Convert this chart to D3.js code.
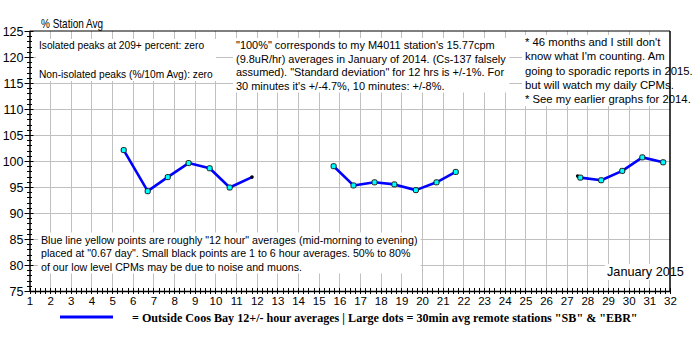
<!DOCTYPE html>
<html><head><meta charset="utf-8">
<script src="https://cdn.jsdelivr.net/npm/d3@7"></script>
<style>body{margin:0;background:#fff}svg{display:block}</style>
</head><body><svg id="c" width="700" height="350"></svg>
<script>
// ---- data ----
const avgDays = [5.56, 6.72, 7.69, 8.70, 9.72, 10.69,
                 15.72, 16.68, 17.70, 18.66, 19.70, 20.70, 21.63,
                 27.66, 28.67, 29.69, 30.66, 31.67];
const avgVals = [102.1, 94.2, 96.9, 99.6, 98.6, 94.9,
                 99.0, 95.3, 95.9, 95.5, 94.4, 95.9, 97.9,
                 96.8, 96.3, 98.1, 100.7, 99.75];
const shortDays = [11.77, 27.53];
const shortVals = [96.9, 97.1];
const xTicks = d3.range(1, 33);
const yTicks = [75, 80, 85, 90, 95, 100, 105, 110, 115, 120, 125];
const yTitle = "% Station Avg";
const monthLabel = "January 2015";
const notePeaks = ["Isolated peaks at 209+ percent: zero", "Non-isolated peaks (%/10m Avg): zero"];
const noteStation = ["\"100%\" corresponds to my M4011 station's 15.77cpm",
  "(9.8uR/hr) averages in January of 2014. (Cs-137 falsely",
  "assumed). \"Standard deviation\" for 12 hrs is +/-1%. For",
  "30 minutes it's +/-4.7%, 10 minutes: +/-8%."];
const noteMonths = ["* 46 months and I still don't", "know what I'm counting. Am",
  "going to sporadic reports in 2015.", "but will watch my daily CPMs.",
  "* See my earlier graphs for 2014."];
const noteLegend = ["Blue line yellow points are roughly \"12 hour\" averages (mid-morning to evening)",
  "placed at \"0.67 day\". Small black points are 1 to 6 hour averages. 50% to 80%",
  "of our low level CPMs may be due to noise and muons."];
const legendText = "= Outside Coos Bay 12+/- hour averages | Large dots = 30min avg remote stations \"SB\" & \"EBR\"";

// ---- chart ----
const svg = d3.select("#c");
svg.append("rect").attr("width", 700).attr("height", 350).attr("fill", "#fff");
const SANS = "'Liberation Sans', Arial, sans-serif";
const x = d3.scaleLinear().domain([1, 32]).range([29.5, 670]);
const y = d3.scaleLinear().domain([75, 125]).range([291, 31]);

// grid
const grid = svg.append("g").attr("stroke", "#c0c0c0").attr("stroke-width", 1);
grid.selectAll("line.v").data(xTicks.slice(1, -1)).join("line")
  .attr("x1", d => Math.round(x(d)) + 0.5).attr("x2", d => Math.round(x(d)) + 0.5)
  .attr("y1", y(125)).attr("y2", y(75));
grid.selectAll("line.h").data(yTicks.slice(1, -1)).join("line")
  .attr("y1", d => Math.round(y(d)) + 0.5).attr("y2", d => Math.round(y(d)) + 0.5)
  .attr("x1", x(1)).attr("x2", x(32));

// text block helper
function block(lines, x0, baselines, targetW, opts = {}) {
  const g = svg.append("g");
  const rect = g.append("rect").attr("fill", "#fff");
  const t = g.append("text").attr("font-family", opts.family || SANS)
    .attr("font-weight", opts.weight || "normal").attr("font-size", 20)
    .attr("fill", "#000").attr("text-anchor", opts.anchor || "start");
  lines.forEach((l, i) => t.append("tspan").attr("x", x0).attr("y", baselines[i]).text(l));
  const maxW = d3.max(t.selectAll("tspan").nodes(), n => n.getComputedTextLength());
  t.attr("font-size", 20 * targetW / maxW);
  const b = t.node().getBBox();
  const p = opts.pad === undefined ? 3 : opts.pad;
  if (opts.box !== false)
    rect.attr("x", b.x - p).attr("y", b.y - 1).attr("width", b.width + 2 * p).attr("height", b.height + 2);
  return g;
}

block(notePeaks, 39, [49, 78], 174);
block(noteStation, 236, [49, 62.5, 76, 89.5], 270);
block(noteMonths, 525, [46, 60.3, 74.6, 88.9, 103.2], 168);
block(noteLegend, 41, [243.5, 257, 270.5], 377);
block([monthLabel], 607, [276], 77, { pad: 2 });
svg.append("text").attr("x", 41).attr("y", 28).attr("font-family", SANS).attr("font-size", 13.5)
  .attr("textLength", 62).attr("lengthAdjust", "spacingAndGlyphs").attr("fill", "#000").text(yTitle);

// frame
svg.append("line").attr("x1", x(1)).attr("x2", x(32)).attr("y1", y(125)).attr("y2", y(125)).attr("stroke", "#000");
svg.append("line").attr("x1", x(32)).attr("x2", x(32)).attr("y1", y(125)).attr("y2", y(75)).attr("stroke", "#000").attr("stroke-width", 1.5);

// x axis
const xAxis = svg.append("g").attr("transform", `translate(0,${y(75)})`)
  .call(d3.axisBottom(x).tickValues(xTicks).tickFormat(d3.format("d")).tickSize(0));
xAxis.select(".domain").attr("stroke", "#000").attr("stroke-width", 1.5);
xAxis.selectAll("text").attr("y", 14).attr("dy", null).attr("font-family", SANS).attr("font-size", 11.5).attr("fill", "#000");
xAxis.selectAll(".minor").data(d3.range(1, 32.001, 0.25)).join("line").attr("class", "minor")
  .attr("x1", d => Math.round(x(d)) + 0.5).attr("x2", d => Math.round(x(d)) + 0.5)
  .attr("y1", -3).attr("y2", 3).attr("stroke", "#000");

// y axis
const yAxis = svg.append("g").attr("transform", `translate(${x(1)},0)`)
  .call(d3.axisLeft(y).tickValues(yTicks).tickSize(0).tickPadding(6));
yAxis.select(".domain").attr("stroke", "#000").attr("stroke-width", 1.5);
yAxis.selectAll("text").attr("font-family", SANS).attr("font-size", 12.5).attr("fill", "#000");
yAxis.selectAll(".minor").data(d3.range(75, 125.001, 1)).join("line").attr("class", "minor")
  .attr("y1", d => Math.round(y(d)) + 0.5).attr("y2", d => Math.round(y(d)) + 0.5)
  .attr("x1", d => d % 5 === 0 ? -5 : -2.5).attr("x2", d => d % 5 === 0 ? 4 : 2.5).attr("stroke", "#000");

// data lines
const pts = avgDays.map((d, i) => ({ d, v: avgVals[i], big: true }))
  .concat(shortDays.map((d, i) => ({ d, v: shortVals[i], big: false })))
  .sort((a, b) => a.d - b.d);
const segs = [];
pts.forEach((p, i) => {
  if (i === 0 || p.d - pts[i - 1].d > 2) segs.push([]);
  segs[segs.length - 1].push(p);
});
const line = d3.line().x(p => x(p.d)).y(p => y(p.v));
svg.append("g").selectAll("path").data(segs).join("path")
  .attr("d", line).attr("fill", "none").attr("stroke", "#0000ff").attr("stroke-width", 2.6)
  .attr("stroke-linejoin", "round");
svg.append("g").selectAll("circle").data(pts.filter(p => !p.big)).join("circle")
  .attr("cx", p => x(p.d)).attr("cy", p => y(p.v)).attr("r", 1.8).attr("fill", "#000");
svg.append("g").selectAll("rect").data(pts.filter(p => p.big)).join("rect")
  .attr("x", p => x(p.d) - 2.5).attr("y", p => y(p.v) - 2.5).attr("width", 5).attr("height", 5)
  .attr("rx", 1.5).attr("fill", "#00ffff").attr("stroke", "#1a1a1a").attr("stroke-width", 1);

// legend
svg.append("line").attr("x1", 60).attr("x2", 113).attr("y1", 317).attr("y2", 317)
  .attr("stroke", "#0000ff").attr("stroke-width", 3);
block([legendText], 132, [321.5], 506, { family: "'Liberation Serif', 'Times New Roman', serif", weight: "bold", box: false });
</script></body></html>
